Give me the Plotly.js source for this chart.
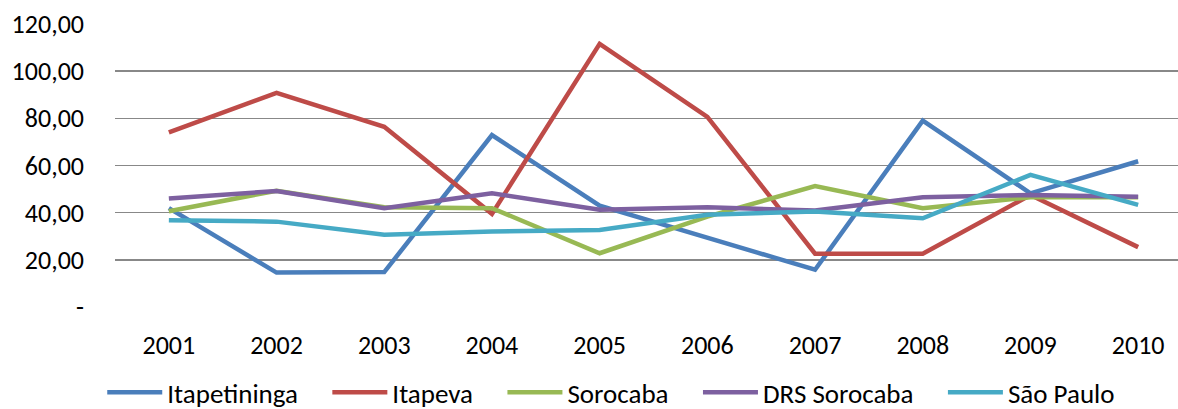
<!DOCTYPE html>
<html><head><meta charset="utf-8">
<script src="https://cdn.plot.ly/plotly-3.0.1.min.js"></script>
<style>body{margin:0;background:#fff}#chart{width:1178px;height:409px}</style>
</head><body><div id="chart"></div>
<script>
const years = ["2001","2002","2003","2004","2005","2006","2007","2008","2009","2010"];
const itapetininga = [41.9, 14.6, 14.8, 72.9, 43.0, 29.6, 15.8, 79.0, 48.2, 61.8];
const itapeva = [74.0, 90.8, 76.4, 39.5, 111.6, 80.6, 22.6, 22.6, 47.5, 25.4];
const sorocaba = [40.6, 49.3, 42.3, 41.9, 22.8, 38.3, 51.3, 41.9, 46.5, 46.5];
const drsSorocaba = [46.0, 49.2, 41.9, 48.2, 41.2, 42.3, 40.9, 46.5, 47.5, 46.8];
const saoPaulo = [36.8, 36.2, 30.6, 32.0, 32.7, 39.1, 40.5, 37.6, 56.0, 43.3];
const yTickVals = [0, 20, 40, 60, 80, 100, 120];
const yTickText = ["-", "20,00", "40,00", "60,00", "80,00", "100,00", "120,00"];

const pad = "\u00a0\u00a0\u00a0\u00a0";
const series = [
  {name: "Itapetininga", y: itapetininga, color: "#4A7EBB"},
  {name: "Itapeva", y: itapeva, color: "#BE4B48"},
  {name: "Sorocaba", y: sorocaba, color: "#98B954"},
  {name: "DRS Sorocaba", y: drsSorocaba, color: "#7D60A0"},
  {name: "São Paulo", y: saoPaulo, color: "#46AAC5"}
];
const traces = series.map(s => ({
  type: "scatter", mode: "lines", name: s.name + pad, x: years, y: s.y,
  line: {color: s.color, width: 4.5}
}));
const fam = "Carlito, Calibri, 'Open Sans', sans-serif";
const font = {family: fam, size: 26, color: "#000"};
const layout = {
  width: 1178, height: 409,
  margin: {l: 115, r: 0, t: 24, b: 102, autoexpand: false},
  paper_bgcolor: "#fff", plot_bgcolor: "#fff",
  font: font,
  showlegend: true,
  xaxis: {
    type: "category", range: [-0.5, 9.37], showgrid: false, zeroline: false,
    showline: false, ticks: "", ticklabelstandoff: 20, tickangle: 0, tickfont: font, fixedrange: true
  },
  yaxis: {
    range: [0, 120], tickvals: yTickVals, ticktext: yTickText,
    showgrid: true, gridcolor: "#888", gridwidth: 1.5, zeroline: false,
    showline: false, ticks: "", ticklabelstandoff: 30, tickfont: font, fixedrange: true
  },
  legend: {
    orientation: "h", xref: "paper", yref: "paper",
    x: -0.012, xanchor: "left", y: -0.303, yanchor: "middle",
    font: {family: fam, size: 27, color: "#000"}, itemwidth: 55,
    traceorder: "normal"
  }
};
Plotly.newPlot("chart", traces, layout, {staticPlot: true});
</script></body></html>
